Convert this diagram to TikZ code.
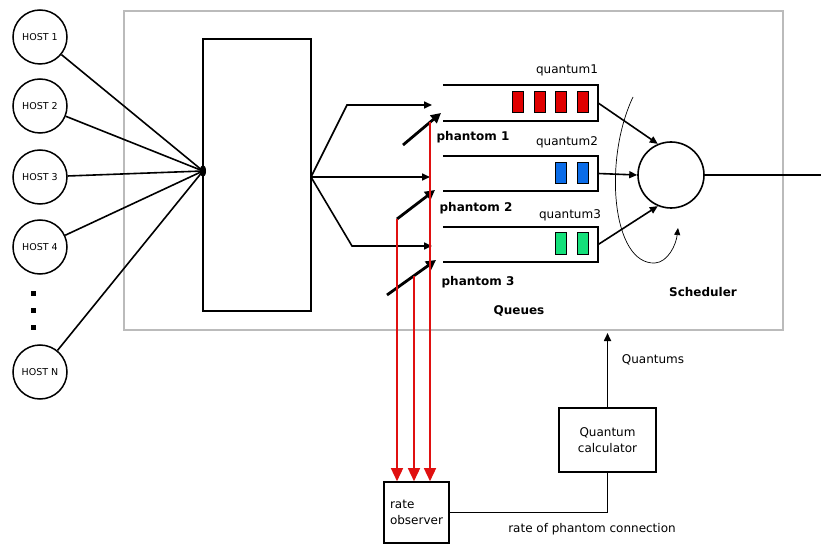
\documentclass[tikz,border=0pt]{standalone}
\usepackage{fontspec}
\setmainfont{DejaVu Sans}
\usetikzlibrary{arrows.meta}
\definecolor{redq}{HTML}{E00000}
\definecolor{blueq}{HTML}{0A6CE8}
\definecolor{greenq}{HTML}{14E07A}
\definecolor{redline}{HTML}{E01010}
\definecolor{frame}{HTML}{BBBBBB}
\begin{document}
\begin{tikzpicture}[x=1pt,y=-1pt,
 host/.style={draw,circle,line width=1.5pt,minimum size=54pt,inner sep=0pt,font=\fontsize{9.5}{11}\selectfont},
 box/.style={draw,line width=1.6pt,inner sep=0pt},
 wire/.style={line width=1.6pt},
 arr/.style={line width=1.6pt,-{Triangle[length=8pt,width=7pt]}},
 ph/.style={line width=2.8pt,-{Triangle[length=10pt,width=10pt]}},
 redarr/.style={draw=redline,line width=1.5pt,-{Triangle[length=13pt,width=12pt]}},
 lbl/.style={font=\fontsize{12}{16}\selectfont},
 blbl/.style={font=\bfseries\fontsize{12}{14}\selectfont},
 blk/.style={draw,line width=1pt,minimum width=11pt,minimum height=21pt,inner sep=0pt},
 queue/.style={minimum width=155pt,minimum height=36pt,inner sep=0pt}
]
\useasboundingbox[fill=white] (0,0) rectangle (821,545);

% outer frame
\draw[frame,line width=1.3pt] (124,11) rectangle (783,330);

% hosts
\node[host] (h1) at (40,37) {HOST 1};
\node[host] (h2) at (40,106) {HOST 2};
\node[host] (h3) at (40,177) {HOST 3};
\node[host] (h4) at (40,247) {HOST 4};
\node[host] (hn) at (40,372) {HOST N};
\foreach \y in {293,310,327} \fill (30.5,\y-2.5) rectangle (35.5,\y+2.5);

% input box
\node[box,minimum width=108pt,minimum height=272pt] (B) at (257,175) {};
\coordinate (J) at (203,171);
\foreach \h in {h1,h2,h3,h4,hn} \draw[wire] (\h) -- (J);
\fill (J) ellipse (3pt and 6pt);

% branches
\coordinate (R) at (311,177);
\coordinate (a1) at (432,105);
\coordinate (a2) at (430,177);
\coordinate (a3) at (432,246);
\draw[arr] (R) -- (347,105) -- (a1);
\draw[arr] (R) -- (a2);
\draw[arr] (R) -- (352,246) -- (a3);

% queues
\node[queue] (q1) at (520.5,103) {};
\node[queue,minimum height=35pt] (q2) at (520.5,173.5) {};
\node[queue,minimum height=35pt] (q3) at (520.5,244.5) {};
\foreach \q in {q1,q2,q3}
  \draw[wire] (\q.north west) -- (\q.north east) -- (\q.south east) -- (\q.south west);

\foreach \x in {517.5,539.5,560.5,582.5} \node[blk,fill=redq] at (\x,102.5) {};
\foreach \x in {560.5,582.5} \node[blk,fill=blueq] at (\x,173.5) {};
\foreach \x in {560.5,582.5} \node[blk,fill=greenq] at (\x,243.5) {};

\node[lbl] (lq1) at (567,70) {quantum1};
\node[lbl] (lq2) at (567,142) {quantum2};
\node[lbl] (lq3) at (570,215) {quantum3};

% phantom arrows
\coordinate (p1s) at (403,145); \coordinate (p1e) at (441,113);
\coordinate (p2s) at (397,219); \coordinate (p2e) at (435,190);
\coordinate (p3s) at (387,295); \coordinate (p3e) at (436,260);
\draw[ph] (p1s) -- (p1e);
\draw[ph] (p2s) -- (p2e);
\draw[ph] (p3s) -- (p3e);
\node[blbl] (lp1) at (473,137) {phantom 1};
\node[blbl] (lp2) at (476,208) {phantom 2};
\node[blbl] (lp3) at (478,282) {phantom 3};
\node[blbl] (lqueues) at (519,311) {Queues};

% scheduler
\node[draw,circle,line width=1.6pt,minimum size=66pt,inner sep=0pt] (sc) at (671,175) {};
\draw[arr] (q1.east) -- (sc.113);
\draw[arr] (q2.east) -- (sc.west);
\draw[arr] (q3.east) -- (sc.247);
\coordinate (out) at (821,175);
\draw[wire] (sc.east) -- (out);
\draw[line width=0.7pt,-{Triangle[length=7pt,width=6pt]}] (633,97) .. controls (603,160) and (612,265) .. (655,263) .. controls (668,262) and (676,245) .. (678,228);
\node[blbl] (lsch) at (703,292) {Scheduler};

% rate observer and quantum calculator
\node[box,minimum width=65pt,minimum height=61pt,align=left,lbl] (ro) at (416.5,512.5) {rate\\observer};
\node[box,minimum width=97pt,minimum height=64pt,align=center,lbl] (qc) at (607.5,440) {Quantum\\calculator};

\coordinate (r1) at (430,122);
\coordinate (r2) at (397,219);
\coordinate (r3) at (414,276);
\draw[redarr] (r1) -- (r1 |- ro.north);
\draw[redarr] (r2) -- (r2 |- ro.north);
\draw[redarr] (r3) -- (r3 |- ro.north);

\draw[wire] (ro.east) -| (qc.south);
\coordinate (qtop) at (607.5,333);
\draw[arr] (qc.north) -- (qtop);
\node[lbl] (lquant) at (653,360) {Quantums};
\node[lbl] (lrate) at (592,529) {rate of phantom connection};
\end{tikzpicture}
\end{document}
